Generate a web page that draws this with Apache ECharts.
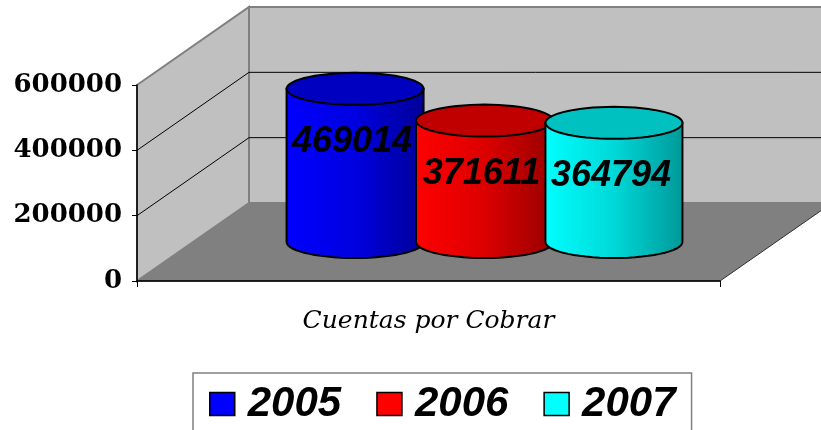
<!DOCTYPE html>
<html>
	<head>
		<meta http-equiv="Content-Type" content="text/html; charset=utf-8" />
		<title>Cuentas por Cobrar</title>
		<script type="text/javascript" src="https://cdn.jsdelivr.net/npm/echarts@6/dist/echarts.min.js"></script>
		<style>
			html, body { margin: 0; padding: 0; background: #fff; }
		</style>
	</head>
	<body>
		<div id='content' style="width:821px;height:430px;"></div>
	</body>
	<script>
		// data
		var categories = ['Cuentas por Cobrar'];
		var years = ['2005', '2006', '2007'];
		var values = [469014, 371611, 364794];
		var yTicks = [0, 200000, 400000, 600000];

		var bodyColors = [
			['#0000ff', '#0000e0', '#000098'],
			['#ff0000', '#dc0000', '#980000'],
			['#00ffff', '#00d8d8', '#009898']
		];
		var topColors = ['#0000c0', '#c00000', '#00c0c0'];
		var legendColors = ['#0000ff', '#ff0000', '#00ffff'];

		var depthX = 112, depthY = -78;   // 3d depth of the walls
		var barStep = 0.222, barWidth = 0.235, ellH = 16;

		var myChart = echarts.init(document.getElementById('content'));

		function renderWalls(params, api) {
			var cs = params.coordSys;
			var x0 = cs.x, x1 = cs.x + cs.width;
			var y0 = api.coord([0, yTicks[0]])[1];
			var yTop = api.coord([0, yTicks[yTicks.length - 1]])[1];
			var children = [
				{
					type: 'polygon',
					shape: { points: [[x0, y0], [x1, y0], [x1 + depthX, y0 + depthY], [x0 + depthX, y0 + depthY]] },
					style: { fill: '#808080', stroke: '#303030', lineWidth: 1 }
				},
				{
					type: 'polygon',
					shape: { points: [[x0 + depthX, yTop + depthY], [x1 + depthX + 20, yTop + depthY], [x1 + depthX + 20, y0 + depthY], [x0 + depthX, y0 + depthY]] },
					style: { fill: '#c0c0c0', stroke: '#808080', lineWidth: 2 }
				},
				{
					type: 'polygon',
					shape: { points: [[x0, yTop], [x0 + depthX, yTop + depthY], [x0 + depthX, y0 + depthY], [x0, y0]] },
					style: { fill: '#c0c0c0', stroke: '#808080', lineWidth: 2 }
				}
			];
			for (var i = 1; i < yTicks.length - 1; i++) {
				var y = api.coord([0, yTicks[i]])[1];
				children.push({
					type: 'polyline',
					shape: { points: [[x0, y], [x0 + depthX, y + depthY], [x1 + depthX + 20, y + depthY]] },
					style: { stroke: '#000', lineWidth: 1, fill: null }
				});
			}
			return { type: 'group', children: children };
		}

		function makeCylinder(i) {
			return function (params, api) {
				var cs = params.coordSys;
				var top = api.coord([api.value(0), api.value(1)]);
				var base = api.coord([api.value(0), 0]);
				var cx = top[0] + depthX / 2 + (i - 1) * barStep * cs.width;
				var yt = top[1] + depthY / 2;
				var yb = base[1] + depthY / 2;
				var rx = barWidth * cs.width / 2;
				var n = 60, k, a;
				var ell = [], body = [[cx - rx, yt]];
				for (k = 0; k < n; k++) {
					a = 2 * Math.PI * k / n;
					ell.push([cx + rx * Math.cos(a), yt + ellH * Math.sin(a)]);
				}
				for (k = 0; k <= n / 2; k++) {
					a = Math.PI - Math.PI * k / (n / 2);
					body.push([cx + rx * Math.cos(a), yb + ellH * Math.sin(a)]);
				}
				body.push([cx + rx, yt]);
				var c = bodyColors[i];
				return {
					type: 'group',
					children: [
						{
							type: 'polygon',
							shape: { points: body },
							style: {
								fill: new echarts.graphic.LinearGradient(0, 0, 1, 0, [
									{ offset: 0, color: c[0] },
									{ offset: 0.5, color: c[1] },
									{ offset: 1, color: c[2] }
								]),
								stroke: '#000', lineWidth: 2
							}
						},
						{
							type: 'polygon',
							shape: { points: ell },
							style: { fill: topColors[i], stroke: '#000', lineWidth: 2 }
						},
						{
							type: 'text',
							style: {
								text: String(api.value(1)),
								x: cx - 3, y: yt + 53,
								align: 'center', verticalAlign: 'middle',
								fontFamily: 'Liberation Sans', fontSize: 36,
								fontWeight: 'bold', fontStyle: 'italic',
								fill: '#000'
							}
						}
					]
				};
			};
		}

		var series = [{
			name: 'walls',
			type: 'custom',
			z: 1,
			clip: false,
			silent: true,
			renderItem: renderWalls,
			data: [[0, 0]]
		}];
		for (var i = 0; i < years.length; i++) {
			series.push({
				name: years[i],
				type: 'custom',
				z: 3,
				clip: false,
				encode: { x: 0, y: 1 },
				itemStyle: { color: legendColors[i] },
				renderItem: makeCylinder(i),
				data: [[0, values[i]]]
			});
		}

		myChart.setOption({
			backgroundColor: '#fff',
			animation: false,
			grid: { left: 137, right: 101, top: 85, bottom: 149 },
			legend: {
				data: years,
				left: 193,
				top: 373,
				icon: 'rect',
				itemWidth: 25,
				itemHeight: 23,
				itemGap: 35,
				padding: [10, 16, 30, 16],
				borderColor: '#808080',
				borderWidth: 1.5,
				itemStyle: { borderColor: '#000', borderWidth: 1.5 },
				textStyle: {
					fontFamily: 'Liberation Sans', fontSize: 42,
					fontWeight: 'bold', fontStyle: 'italic', color: '#000',
					padding: [0, 0, 0, 8]
				}
			},
			xAxis: {
				type: 'category',
				data: categories,
				z: 5,
				axisLine: { lineStyle: { color: '#000', width: 1.5 } },
				axisTick: { show: true, length: 6, lineStyle: { color: '#000' } },
				axisLabel: {
					margin: 28,
					fontFamily: 'DejaVu Serif', fontStyle: 'italic',
					fontSize: 25, color: '#000'
				}
			},
			yAxis: {
				type: 'value',
				min: 0,
				max: 600000,
				interval: 200000,
				z: 5,
				axisLine: { show: true, lineStyle: { color: '#000', width: 1.5 } },
				axisTick: { show: true, length: 5, lineStyle: { color: '#000' } },
				splitLine: { show: false },
				axisLabel: {
					margin: 15,
					padding: [12, 0, 0, 0],
					formatter: function (v) { return String(v); },
					fontFamily: 'DejaVu Serif', fontWeight: 'bold',
					fontSize: 26, color: '#000'
				}
			},
			series: series
		});
	</script>
</html>
